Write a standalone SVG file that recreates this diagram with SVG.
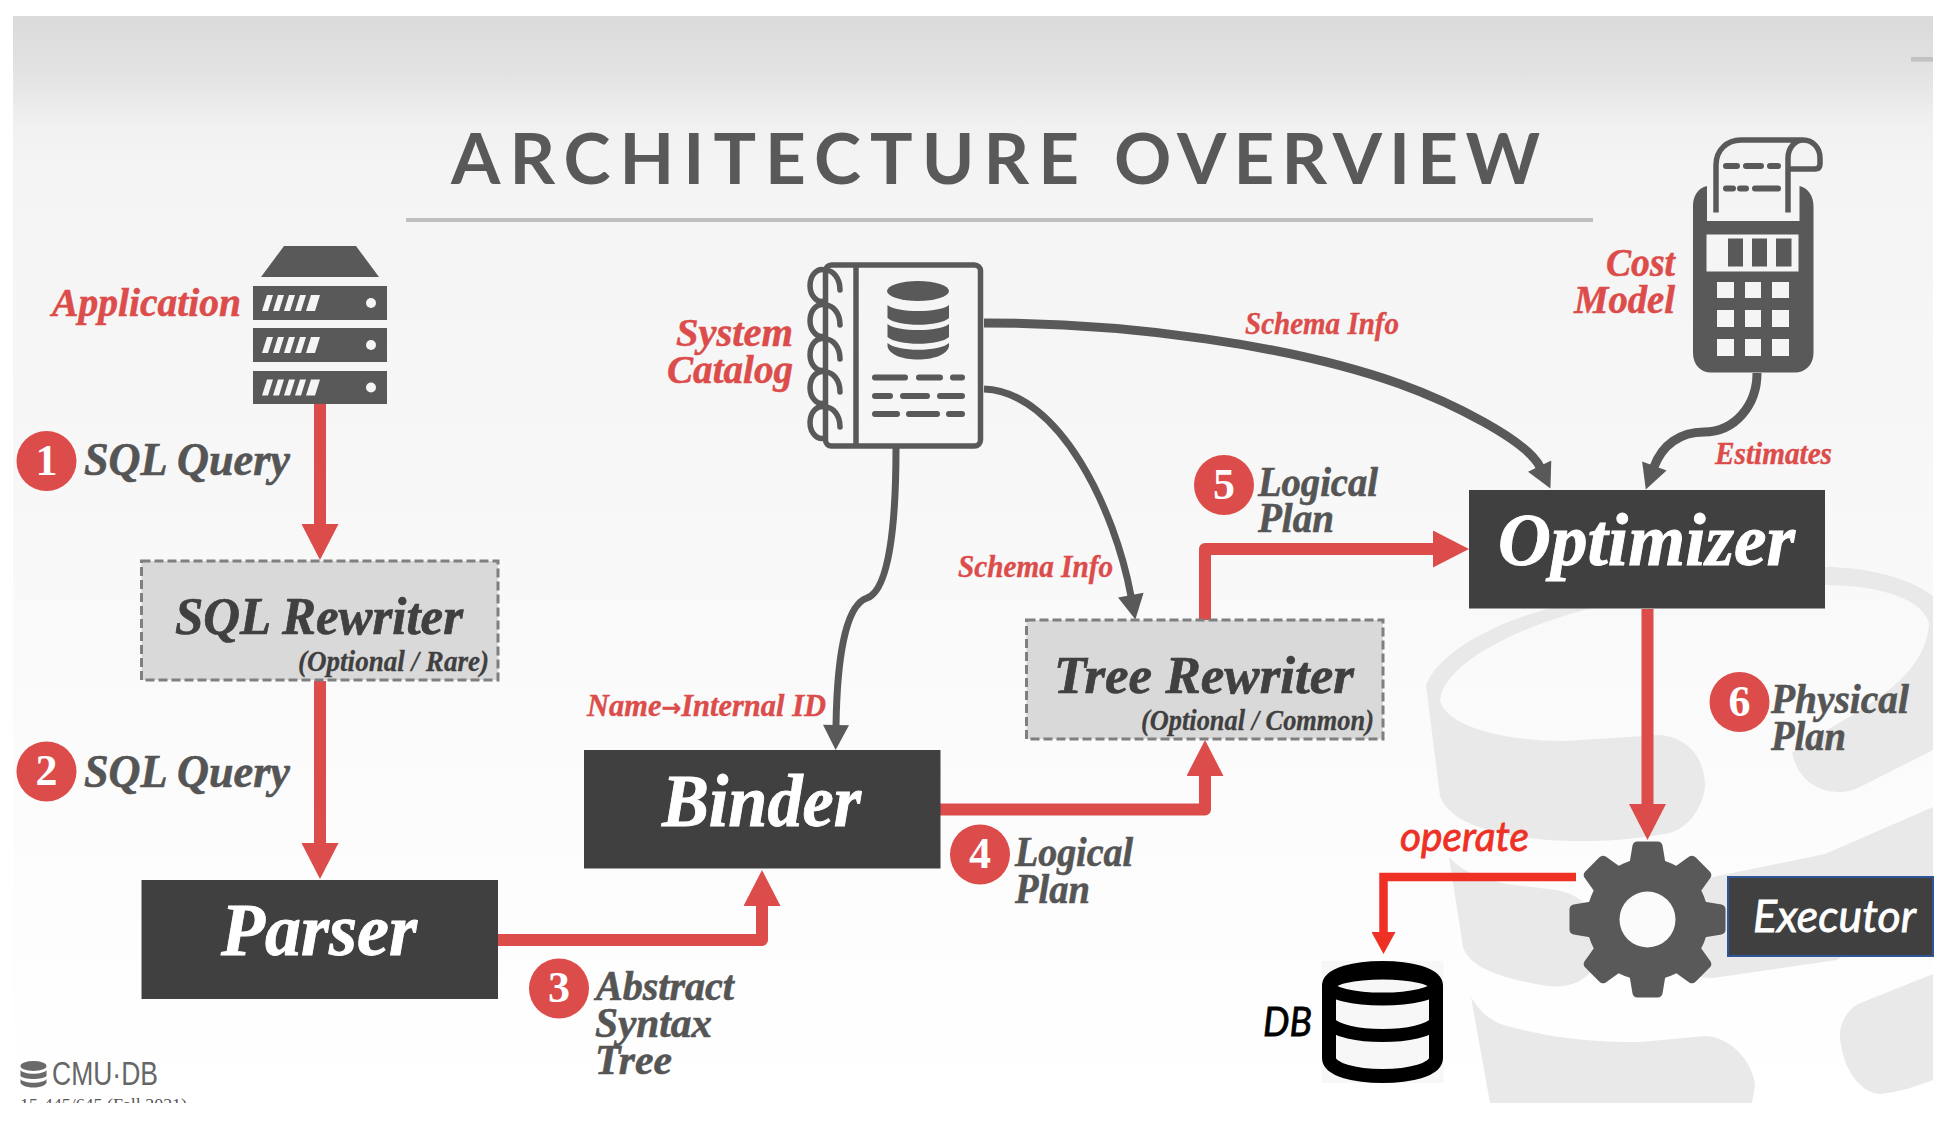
<svg xmlns="http://www.w3.org/2000/svg" width="1948" height="1122" viewBox="0 0 1948 1122">
<style>
text{font-family:"Liberation Serif","Times New Roman",serif;font-style:italic;font-weight:bold}
.gl{fill:#555;font-size:46px;stroke:#555;stroke-width:.6}
.gs{fill:#555;font-size:42px;stroke:#555;stroke-width:.6}
.rl{fill:#dc4c4a;font-size:40px;stroke:#dc4c4a;stroke-width:.5}
.rs{fill:#dc4c4a;font-size:31px;stroke:#dc4c4a;stroke-width:.4}
.big{fill:#fff;font-size:74px;stroke:#fff;stroke-width:.9}
.mid{fill:#404040;font-size:52px;stroke:#404040;stroke-width:.7}
.sub{fill:#404040;font-size:29px;stroke:#404040;stroke-width:.3}
.num{fill:#fff;font-size:44px;font-style:normal;text-anchor:middle}
.sans{font-family:Lato,"Liberation Sans",sans-serif;font-weight:400;stroke-width:.8}
.dark{fill:#404040}
.dash{fill:#d9d9d9;stroke:#7f7f7f;stroke-width:3;stroke-dasharray:9 4}
.icon{fill:#595959}
.badge{fill:#dc4c4a}
.red{fill:none;stroke:#dc4c4a;stroke-width:12;stroke-linejoin:round}
.gray{fill:none;stroke:#595959;stroke-width:7}
.op{fill:none;stroke:#ee3124;stroke-width:8.5}
.line{fill:none;stroke:#595959;stroke-width:6;stroke-linecap:round}
.wm{fill:#e9e9e9}
</style>
<defs>
<linearGradient id="bg" x1="0" y1="0" x2="0" y2="1">
<stop offset="0" stop-color="#dadada"/><stop offset="0.05" stop-color="#e2e2e2"/><stop offset="0.1" stop-color="#f1f1f1"/><stop offset="0.14" stop-color="#f4f4f4"/><stop offset="0.4" stop-color="#f7f7f7"/><stop offset="0.75" stop-color="#fcfcfc"/><stop offset="1" stop-color="#ffffff"/>
</linearGradient>
<clipPath id="slide"><rect x="13" y="16" width="1920" height="1087"/></clipPath>
<marker id="hr" markerUnits="userSpaceOnUse" markerWidth="37" markerHeight="37" viewBox="0 0 36 37" refX="0" refY="18.5" orient="auto"><path d="M0 0L36 18.5L0 37Z" fill="#dc4c4a"/></marker>
<marker id="hg" markerUnits="userSpaceOnUse" markerWidth="26" markerHeight="26" viewBox="0 0 25 26" refX="1" refY="13" orient="auto"><path d="M0 0L25 13L0 26Z" fill="#595959"/></marker>
<marker id="ho" markerUnits="userSpaceOnUse" markerWidth="23" markerHeight="24" viewBox="0 0 22 24" refX="0" refY="12" orient="auto"><path d="M0 0L22 12L0 24Z" fill="#ee3124"/></marker>
<path id="tooth" d="M-19 -50L-15 -74Q-14 -78 -10 -78L10 -78Q14 -78 15 -74L19 -50Z" class="icon"/>
<path id="stripes" d="M5 -8L11 -8L6 8L0 8ZM16 -8L22 -8L17 8L11 8ZM27 -8L33 -8L28 8L22 8ZM38 -8L44 -8L39 8L33 8ZM49 -8L58 -8L53 8L44 8Z" fill="#f5f5f5"/>
<path id="ring" d="M-1 -16A12 16 0 1 0 -1 15M-1 -16C7 -16 14 -8 14 4" fill="none" stroke="#595959" stroke-width="5.5" stroke-linecap="round"/>
</defs>

<g id="background">
<rect x="13" y="16" width="1920" height="1087" fill="url(#bg)"/>
<g clip-path="url(#slide)">
<path class="wm" d="M1426 685C1440 650 1500 620 1556 607L1825 567C1860 567 1905 575 1933 596L1933 750L1858 788C1835 798 1800 790 1792 753C1830 722 1925 690 1929 624C1925 600 1880 585 1825 585L1597 607C1530 622 1445 660 1440 700C1445 725 1500 741 1565 741L1660 735C1690 738 1705 760 1705 786C1703 810 1685 832 1664 834C1620 842 1580 842 1548 840C1500 836 1450 825 1440 796Z"/>
<path class="wm" d="M1449 857C1465 875 1490 880 1507 884L1556 890C1575 893 1590 905 1600 920L1600 960C1585 985 1565 988 1548 986C1510 980 1470 970 1463 947Z"/>
<path class="wm" d="M1713 877L1825 854L1933 807L1933 895L1837 960L1713 978C1680 978 1672 960 1672 947C1670 915 1680 885 1713 877Z"/>
<path class="wm" d="M1933 974L1858 1004C1840 1015 1838 1035 1841 1044C1845 1075 1865 1094 1880 1094C1900 1092 1920 1085 1933 1080Z"/>
<path class="wm" d="M1471 997C1485 1020 1500 1024 1507 1026C1560 1040 1600 1042 1640 1042L1705 1036C1730 1037 1752 1060 1755 1085L1752 1103L1490 1103Z"/>
</g>
<rect x="1911" y="57" width="22" height="4.5" fill="#c2c2c2"/>
<rect x="406" y="218" width="1187" height="4" fill="#bfbfbf"/>
</g>

<text id="title" y="184" style="font-family:Lato,'Liberation Sans',sans-serif;font-style:normal;font-weight:bold;font-size:71px;fill:#595959"><tspan x="451" textLength="628" lengthAdjust="spacing">ARCHITECTURE</tspan> <tspan x="1114" textLength="426" lengthAdjust="spacing">OVERVIEW</tspan></text>

<g id="connectors">
<path class="red" d="M320 404V524" marker-end="url(#hr)"/>
<path class="red" d="M320 681V843" marker-end="url(#hr)"/>
<path class="red" d="M498 940H762V906" marker-end="url(#hr)"/>
<path class="red" d="M940 809.5H1205V776" marker-end="url(#hr)"/>
<path class="red" d="M1205 620V549H1433" marker-end="url(#hr)"/>
<path class="red" d="M1647.5 609V804" marker-end="url(#hr)"/>
<path class="gray" style="stroke-width:9" d="M984 323C1130 323 1290 345 1400 384C1450 402 1527 440 1540 467" marker-end="url(#hg)"/>
<path class="gray" d="M984 389C1060 392 1115 510 1131 596" marker-end="url(#hg)"/>
<path class="gray" d="M896 448C896 520 890 590 867 598C845 605 837 660 836 726" marker-end="url(#hg)"/>
<path class="gray" style="stroke-width:9" d="M1757 373C1757 405 1735 432 1704 432C1680 432 1662 445 1654 467" marker-end="url(#hg)"/>
<path class="op" d="M1576 877H1383.5V932" marker-end="url(#ho)"/>
</g>

<g id="application">
<path class="icon" d="M284 246H356L379 277H261Z"/>
<rect class="icon" x="253" y="286" width="134" height="34"/><use href="#stripes" x="262" y="303"/><circle cx="371" cy="303" r="5" fill="#f5f5f5"/>
<rect class="icon" x="253" y="328" width="134" height="34"/><use href="#stripes" x="262" y="345"/><circle cx="371" cy="345" r="5" fill="#f5f5f5"/>
<rect class="icon" x="253" y="371" width="134" height="33"/><use href="#stripes" x="262" y="387.500"/><circle cx="371" cy="387.500" r="5" fill="#f5f5f5"/>
<text class="rl" x="52" y="316" textLength="189" lengthAdjust="spacingAndGlyphs">Application</text>
</g>

<g id="sql-rewriter">
<rect class="dash" x="141.500" y="561" width="356.500" height="119"/>
<text class="mid" x="175" y="634" textLength="288" lengthAdjust="spacingAndGlyphs">SQL Rewriter</text>
<text class="sub" x="298" y="671" textLength="191" lengthAdjust="spacingAndGlyphs">(Optional / Rare)</text>
</g>

<g id="parser">
<rect class="dark" x="141.500" y="880" width="356.500" height="119"/>
<text class="big" x="221" y="955" textLength="196" lengthAdjust="spacingAndGlyphs">Parser</text>
</g>

<g id="binder">
<rect class="dark" x="584" y="750" width="356.500" height="118.500"/>
<text class="big" x="662" y="826" textLength="199" lengthAdjust="spacingAndGlyphs">Binder</text>
</g>

<g id="tree-rewriter">
<rect class="dash" x="1026.500" y="620" width="356.500" height="119"/>
<text class="mid" x="1054" y="693" textLength="300" lengthAdjust="spacingAndGlyphs">Tree Rewriter</text>
<text class="sub" x="1141" y="730" textLength="233" lengthAdjust="spacingAndGlyphs">(Optional / Common)</text>
</g>

<g id="optimizer">
<rect class="dark" x="1469" y="490" width="356" height="118.500"/>
<text class="big" x="1498" y="565" textLength="297" lengthAdjust="spacingAndGlyphs">Optimizer</text>
</g>

<g id="system-catalog">
<rect x="825.500" y="265" width="155" height="181" rx="6" fill="none" stroke="#595959" stroke-width="5.500"/>
<path d="M856 265V446" fill="none" stroke="#595959" stroke-width="5.500"/>
<use href="#ring" x="826" y="286"/><use href="#ring" x="826" y="321"/><use href="#ring" x="826" y="355"/><use href="#ring" x="826" y="388"/><use href="#ring" x="826" y="423"/>
<path class="icon" d="M887.500 305C897 313 939 313 949 305V318C940 327 897 327 887.500 318Z"/>
<path class="icon" d="M887.500 324C897 332 939 332 949 324V337C940 346 897 346 887.500 337Z"/>
<path class="icon" d="M887.500 343V346C890 364 946 364 949 346V343C940 352 897 352 887.500 343Z"/>
<ellipse class="icon" cx="918" cy="291" rx="31" ry="10"/>
<path class="line" d="M875 377.500H905M919 377.500H940M953 377.500H962M875 396H890M903 396H927M940 396H962M875 414H897M909 414H937M949 414H962"/>
<text class="rl" x="793" y="346" text-anchor="end" textLength="117" lengthAdjust="spacingAndGlyphs">System</text>
<text class="rl" x="793" y="383" text-anchor="end" textLength="126" lengthAdjust="spacingAndGlyphs">Catalog</text>
</g>

<g id="cost-model">
<path class="icon" d="M1707 186V221H1799.500V186C1808 188 1813.500 196 1813.500 206V353C1813.500 365 1805 372.500 1795 372.500H1711C1701 372.500 1693 365 1693 353V206C1693 196 1698 188 1707 186Z"/>
<rect x="1706.500" y="234.500" width="92" height="37" fill="#f5f5f5"/>
<path class="icon" d="M1728 238.500h15v28h-15zM1752 238.500h15v28h-15zM1776 238.500h15.500v28h-15.500z"/>
<path fill="#f5f5f5" d="M1717 282h17v16h-17zM1745 282h16v16h-16zM1772 282h17v16h-17zM1717 310h17v17h-17zM1745 310h16v17h-16zM1772 310h17v17h-17zM1717 339h17v17h-17zM1745 339h16v17h-16zM1772 339h17v17h-17z"/>
<path d="M1716 212.500V165C1716 150 1727 140 1741 140H1803C1813 140 1820 148 1820 158V164Q1820 169 1815 169H1790M1788 212.500V158C1788 148 1795 140 1803 140" fill="none" stroke="#595959" stroke-width="5.500"/>
<path class="line" d="M1726 166H1737M1746 166H1761M1770 166H1778M1726 188.500H1733M1740 188.500H1746M1755 188.500H1778"/>
<text class="rl" x="1675" y="276" text-anchor="end" textLength="69" lengthAdjust="spacingAndGlyphs">Cost</text>
<text class="rl" x="1675" y="312.500" text-anchor="end" textLength="101" lengthAdjust="spacingAndGlyphs">Model</text>
</g>

<g id="executor">
<g transform="translate(1647.500 919.500)">
<use href="#tooth"/><use href="#tooth" transform="rotate(45)"/><use href="#tooth" transform="rotate(90)"/><use href="#tooth" transform="rotate(135)"/><use href="#tooth" transform="rotate(180)"/><use href="#tooth" transform="rotate(225)"/><use href="#tooth" transform="rotate(270)"/><use href="#tooth" transform="rotate(315)"/>
<circle class="icon" r="61"/>
<circle r="28" fill="#fbfbfb"/>
</g>
<rect class="dark" x="1728" y="877" width="205" height="79" stroke="#2f5597" stroke-width="2"/>
<text class="sans" x="1753" y="932" font-size="45" fill="#fff" stroke="#fff" textLength="163" lengthAdjust="spacingAndGlyphs">Executor</text>
</g>

<g id="db">
<rect x="1321.500" y="961" width="122" height="122" fill="#f7f7f7"/>
<path d="M1329 986C1329 962 1436 962 1436 986V1058C1436 1082 1329 1082 1329 1058Z" fill="none" stroke="#000" stroke-width="14"/>
<ellipse cx="1382.500" cy="986" rx="53.500" ry="13" fill="none" stroke="#000" stroke-width="13"/>
<path d="M1329 1022C1340 1040 1425 1040 1436 1022" fill="none" stroke="#000" stroke-width="13"/>
<text class="sans" x="1263" y="1036" font-size="41" fill="#000" stroke="#000" textLength="49" lengthAdjust="spacingAndGlyphs">DB</text>
</g>

<g id="labels">
<circle class="badge" cx="46.500" cy="461" r="30"/><text class="num" x="46.500" y="475">1</text>
<text class="gl" x="84" y="475" textLength="206" lengthAdjust="spacingAndGlyphs">SQL Query</text>
<circle class="badge" cx="46.500" cy="771.500" r="30"/><text class="num" x="46.500" y="785">2</text>
<text class="gl" x="84" y="786.500" textLength="206" lengthAdjust="spacingAndGlyphs">SQL Query</text>
<circle class="badge" cx="559" cy="988.500" r="30"/><text class="num" x="559" y="1002">3</text>
<text class="gs" x="596" y="1000" textLength="138" lengthAdjust="spacingAndGlyphs">Abstract</text>
<text class="gs" x="595" y="1037" textLength="117" lengthAdjust="spacingAndGlyphs">Syntax</text>
<text class="gs" x="595" y="1074" textLength="77" lengthAdjust="spacingAndGlyphs">Tree</text>
<circle class="badge" cx="980" cy="854.500" r="30"/><text class="num" x="980" y="868">4</text>
<text class="gs" x="1015" y="866" textLength="118" lengthAdjust="spacingAndGlyphs">Logical</text>
<text class="gs" x="1015" y="903" textLength="75" lengthAdjust="spacingAndGlyphs">Plan</text>
<circle class="badge" cx="1224" cy="485" r="30"/><text class="num" x="1224" y="499">5</text>
<text class="gs" x="1258" y="496" textLength="120" lengthAdjust="spacingAndGlyphs">Logical</text>
<text class="gs" x="1258" y="532" textLength="76" lengthAdjust="spacingAndGlyphs">Plan</text>
<circle class="badge" cx="1739.500" cy="702" r="30"/><text class="num" x="1739.500" y="716">6</text>
<text class="gs" x="1771" y="713" textLength="138" lengthAdjust="spacingAndGlyphs">Physical</text>
<text class="gs" x="1771" y="750" textLength="75" lengthAdjust="spacingAndGlyphs">Plan</text>
<text class="rs" x="1245" y="334" textLength="154" lengthAdjust="spacingAndGlyphs">Schema Info</text>
<text class="rs" x="958" y="577" textLength="155" lengthAdjust="spacingAndGlyphs">Schema Info</text>
<text class="rs" x="587" y="716" textLength="239" lengthAdjust="spacingAndGlyphs">Name<tspan style="font-family:'DejaVu Sans',sans-serif;font-style:normal;font-size:24px">→</tspan>Internal ID</text>
<text class="rs" x="1715" y="464" textLength="117" lengthAdjust="spacingAndGlyphs">Estimates</text>
<text class="sans" x="1400" y="851" font-size="40" fill="#ee3124" stroke="#ee3124" textLength="129" lengthAdjust="spacingAndGlyphs">operate</text>
</g>

<g id="footer">
<g fill="#6a6a6a">
<ellipse cx="33.500" cy="1066" rx="13" ry="5"/>
<path d="M20.500 1070C24 1075 43 1075 46.500 1070V1076C43 1080 24 1080 20.500 1076Z"/>
<path d="M20.500 1079C24 1084 43 1084 46.500 1079V1083C43 1089 24 1089 20.500 1083Z"/>
</g>
<text x="52" y="1085" font-size="33" fill="#666" textLength="106" lengthAdjust="spacingAndGlyphs" style="font-family:'Liberation Sans',sans-serif;font-style:normal;font-weight:400">CMU·DB</text>
<g clip-path="url(#slide)"><text x="20" y="1110" font-size="17" fill="#555" textLength="167" lengthAdjust="spacingAndGlyphs" style="font-style:normal;font-weight:400">15-445/645 (Fall 2021)</text></g>
</g>
</svg>
